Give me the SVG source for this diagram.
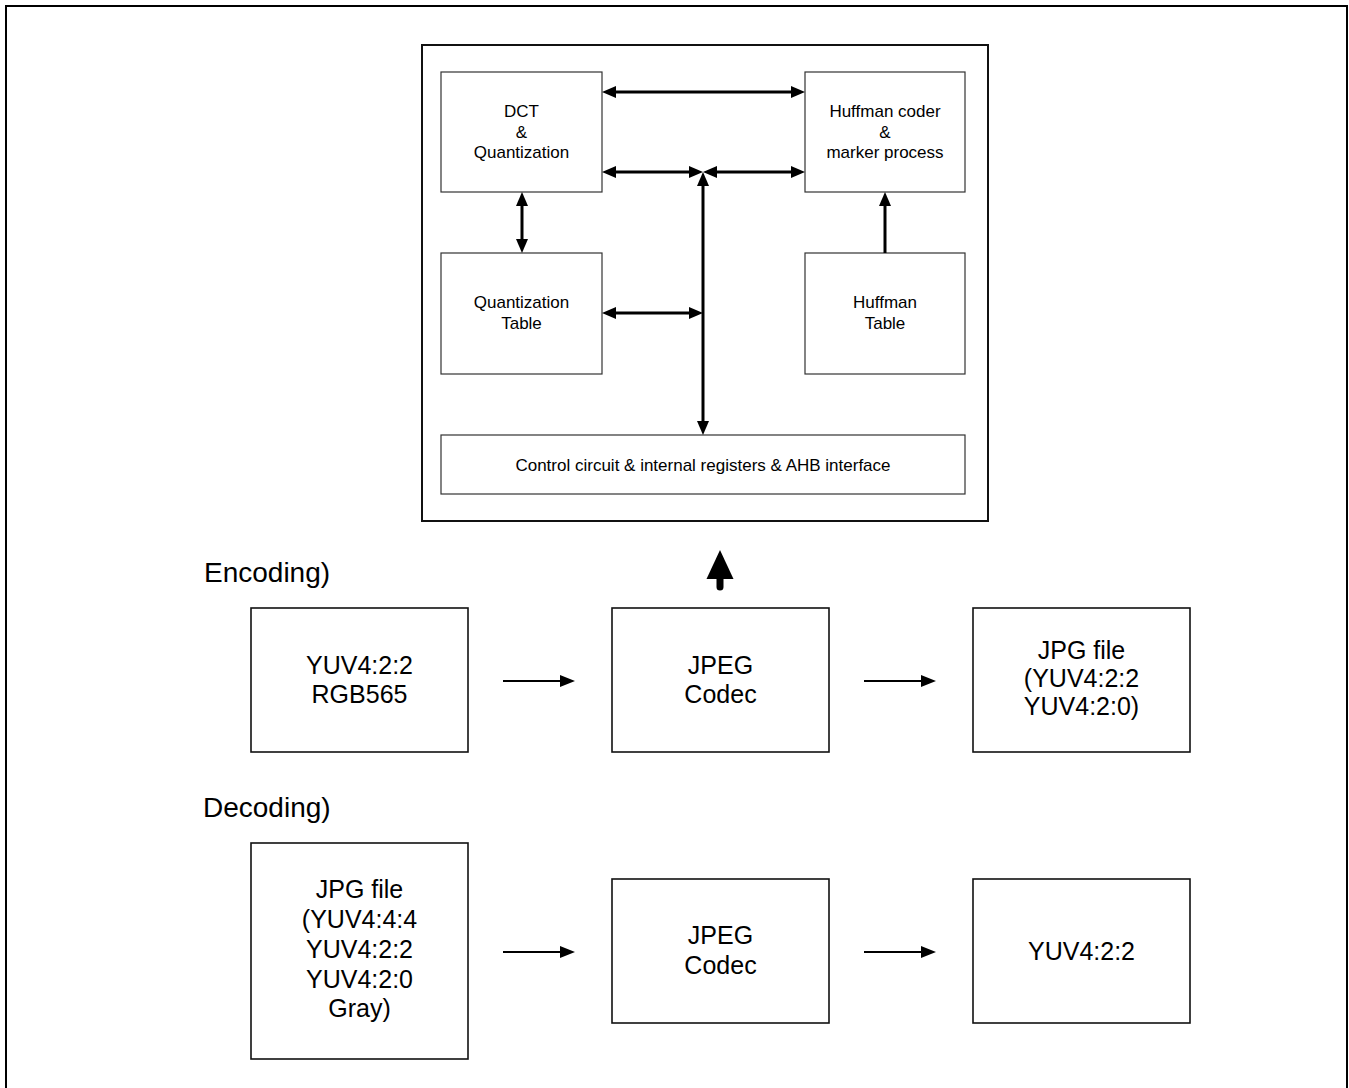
<svg xmlns="http://www.w3.org/2000/svg" width="1349" height="1088" viewBox="0 0 1349 1088">
<style>
text{font-family:"Liberation Sans",Arial,sans-serif;fill:#000;text-anchor:middle}
.in{font-size:17px}
.out{font-size:25px}
.hd{font-size:28px;text-anchor:start}
.ib{fill:#fff;stroke:#333;stroke-width:1.2}
.ob{fill:#fff;stroke:#111;stroke-width:1.6}
.c1{stroke:#000;stroke-width:3;fill:none}
.c2{stroke:#000;stroke-width:2;fill:none}
</style>
<defs>
<marker id="ah" markerUnits="userSpaceOnUse" markerWidth="14" markerHeight="12" refX="3" refY="6" orient="auto-start-reverse"><path d="M0,0 L14,6 L0,12 z" fill="#000"/></marker>
<marker id="ah2" markerUnits="userSpaceOnUse" markerWidth="15" markerHeight="12" refX="3" refY="6" orient="auto-start-reverse"><path d="M0,0 L15,6 L0,12 z" fill="#000"/></marker>
</defs>
<rect width="1349" height="1088" fill="#fff"/>
<rect x="6" y="6" width="1341" height="1110" fill="none" stroke="#000" stroke-width="2"/>
<g id="container"><rect x="422" y="45" width="566" height="476" fill="#fff" stroke="#111" stroke-width="2"/></g>
<g id="dct"><rect class="ib" x="441" y="72" width="161" height="120"/><text class="in" x="521.5" y="117">DCT</text><text class="in" x="521.5" y="137.5">&amp;</text><text class="in" x="521.5" y="158">Quantization</text></g>
<g id="huffcoder"><rect class="ib" x="805" y="72" width="160" height="120"/><text class="in" x="885" y="117">Huffman coder</text><text class="in" x="885" y="137.5">&amp;</text><text class="in" x="885" y="158">marker process</text></g>
<g id="qtable"><rect class="ib" x="441" y="253" width="161" height="121"/><text class="in" x="521.5" y="308">Quantization</text><text class="in" x="521.5" y="329">Table</text></g>
<g id="htable"><rect class="ib" x="805" y="253" width="160" height="121"/><text class="in" x="885" y="308">Huffman</text><text class="in" x="885" y="329">Table</text></g>
<g id="control"><rect class="ib" x="441" y="435" width="524" height="59"/><text class="in" x="703" y="471">Control circuit &amp; internal registers &amp; AHB interface</text></g>
<g id="enc-label"><text class="hd" x="204" y="582">Encoding)</text></g>
<g id="dec-label"><text class="hd" x="203" y="817">Decoding)</text></g>
<g id="enc-in"><rect class="ob" x="251" y="608" width="217" height="144"/><text class="out" x="359.5" y="674">YUV4:2:2</text><text class="out" x="359.5" y="703">RGB565</text></g>
<g id="enc-codec"><rect class="ob" x="612" y="608" width="217" height="144"/><text class="out" x="720.5" y="674">JPEG</text><text class="out" x="720.5" y="703">Codec</text></g>
<g id="enc-out"><rect class="ob" x="973" y="608" width="217" height="144"/><text class="out" x="1081.5" y="659">JPG file</text><text class="out" x="1081.5" y="687">(YUV4:2:2</text><text class="out" x="1081.5" y="715">YUV4:2:0)</text></g>
<g id="dec-in"><rect class="ob" x="251" y="843" width="217" height="216"/><text class="out" x="359.5" y="898">JPG file</text><text class="out" x="359.5" y="928">(YUV4:4:4</text><text class="out" x="359.5" y="958">YUV4:2:2</text><text class="out" x="359.5" y="988">YUV4:2:0</text><text class="out" x="359.5" y="1017">Gray)</text></g>
<g id="dec-codec"><rect class="ob" x="612" y="879" width="217" height="144"/><text class="out" x="720.5" y="944">JPEG</text><text class="out" x="720.5" y="974">Codec</text></g>
<g id="dec-out"><rect class="ob" x="973" y="879" width="217" height="144"/><text class="out" x="1081.5" y="960">YUV4:2:2</text></g>
<g id="connectors">
<line class="c1" x1="613" y1="92" x2="794" y2="92" marker-start="url(#ah)" marker-end="url(#ah)"/>
<line class="c1" x1="613" y1="172" x2="692" y2="172" marker-start="url(#ah)" marker-end="url(#ah)"/>
<line class="c1" x1="714" y1="172" x2="794" y2="172" marker-start="url(#ah)" marker-end="url(#ah)"/>
<line class="c1" x1="703" y1="183" x2="703" y2="424" marker-start="url(#ah)" marker-end="url(#ah)"/>
<line class="c1" x1="613" y1="313" x2="692" y2="313" marker-start="url(#ah)" marker-end="url(#ah)"/>
<line class="c1" x1="522" y1="203" x2="522" y2="242" marker-start="url(#ah)" marker-end="url(#ah)"/>
<line class="c1" x1="885" y1="253" x2="885" y2="203" marker-end="url(#ah)"/>
<path d="M720,550 L733.5,579 L706.5,579 z" fill="#000"/>
<line x1="720" y1="578" x2="720" y2="587" stroke="#000" stroke-width="7" stroke-linecap="round"/>
<line class="c2" x1="503" y1="681" x2="563" y2="681" marker-end="url(#ah2)"/>
<line class="c2" x1="864" y1="681" x2="924" y2="681" marker-end="url(#ah2)"/>
<line class="c2" x1="503" y1="952" x2="563" y2="952" marker-end="url(#ah2)"/>
<line class="c2" x1="864" y1="952" x2="924" y2="952" marker-end="url(#ah2)"/>
</g>
</svg>
